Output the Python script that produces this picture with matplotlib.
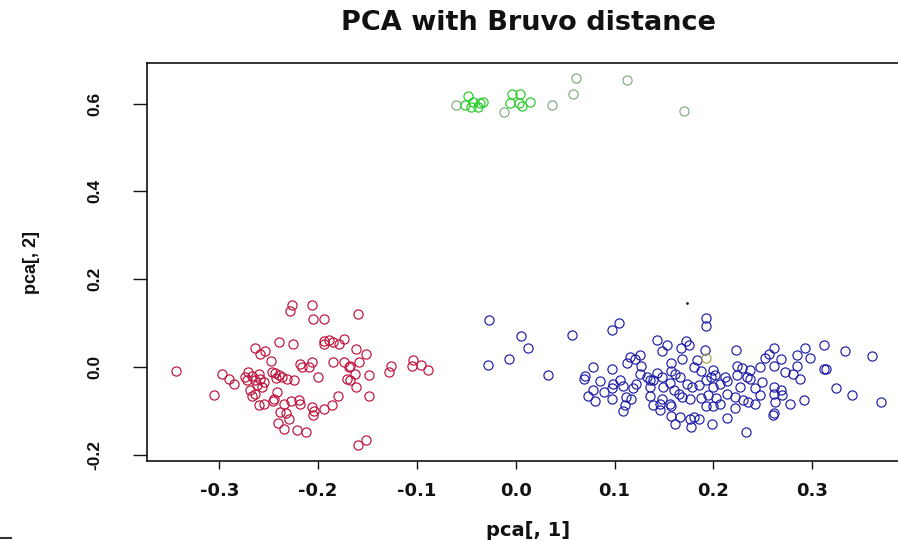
import matplotlib
matplotlib.use("Agg")
import matplotlib.pyplot as plt
from matplotlib.lines import Line2D

plt.rcParams['axes.unicode_minus'] = False

# ---------------- data ----------------
red_x = [-0.344, -0.226, -0.229, -0.206, -0.205, -0.194, -0.160, -0.240, -0.225, -0.194,
         -0.189, -0.185, -0.194, -0.179, -0.174, -0.264, -0.254, -0.259, -0.162, -0.152,
         -0.248, -0.218, -0.206, -0.216, -0.209, -0.185, -0.174, -0.168, -0.159, -0.169,
         -0.126, -0.128, -0.104, -0.105, -0.096, -0.089, -0.297, -0.290, -0.285, -0.271,
         -0.274, -0.267, -0.260, -0.247, -0.244, -0.240, -0.237, -0.243, -0.232, -0.224,
         -0.200, -0.163, -0.149, -0.171, -0.168, -0.272, -0.264, -0.259, -0.255, -0.262,
         -0.257, -0.269, -0.264, -0.267, -0.242, -0.305, -0.162, -0.149, -0.180, -0.245,
         -0.246, -0.260, -0.255, -0.228, -0.219, -0.218, -0.235, -0.206, -0.204, -0.205,
         -0.194, -0.186, -0.239, -0.233, -0.230, -0.241, -0.235, -0.221, -0.212, -0.152,
         -0.160]
red_y = [-0.009, 0.142, 0.128, 0.140, 0.109, 0.108, 0.121, 0.056, 0.051, 0.060,
         0.061, 0.056, 0.052, 0.052, 0.063, 0.042, 0.037, 0.030, 0.040, 0.030,
         0.013, 0.006, 0.011, -0.001, 0.000, 0.011, 0.011, 0.003, 0.011, -0.001,
         0.002, -0.011, 0.015, 0.002, 0.005, -0.007, -0.017, -0.027, -0.038, -0.011,
         -0.023, -0.020, -0.017, -0.012, -0.014, -0.018, -0.023, -0.025, -0.027, -0.029,
         -0.023, -0.017, -0.018, -0.028, -0.030, -0.030, -0.030, -0.028, -0.034, -0.042,
         -0.046, -0.052, -0.062, -0.066, -0.058, -0.065, -0.047, -0.067, -0.067, -0.074,
         -0.077, -0.087, -0.085, -0.077, -0.075, -0.084, -0.085, -0.091, -0.101, -0.110,
         -0.095, -0.087, -0.103, -0.105, -0.118, -0.128, -0.141, -0.143, -0.149, -0.166,
         -0.178]

blue_x = [-0.027, 0.105, 0.097, 0.005, 0.057, 0.012, -0.007, -0.028, 0.033, 0.193,
          0.193, 0.143, 0.153, 0.148, 0.172, 0.175, 0.167, 0.192, 0.223, 0.261,
          0.293, 0.312, 0.333, 0.361, 0.116, 0.126, 0.121, 0.113, 0.127, 0.157,
          0.168, 0.183, 0.252, 0.256, 0.268, 0.285, 0.298, 0.078, 0.097,
          0.070, 0.069, 0.085, 0.098, 0.106, 0.126, 0.133, 0.143, 0.148, 0.157,
          0.161, 0.166, 0.180, 0.187, 0.200, 0.202, 0.212, 0.224, 0.229, 0.234,
          0.247, 0.261, 0.273, 0.281, 0.285, 0.288, 0.312, 0.314, 0.078, 0.089,
          0.097, 0.109, 0.119, 0.122, 0.136, 0.139, 0.149, 0.156, 0.160, 0.165,
          0.173, 0.178, 0.185, 0.193, 0.200, 0.207, 0.214, 0.224, 0.227, 0.237,
          0.242, 0.249, 0.261, 0.268, 0.261, 0.324, 0.340, 0.370, 0.073, 0.080,
          0.097, 0.112, 0.117, 0.136, 0.148, 0.156, 0.139, 0.111, 0.109, 0.146,
          0.157, 0.168, 0.176, 0.187, 0.195, 0.203, 0.207, 0.214, 0.222, 0.230,
          0.235, 0.242, 0.247, 0.262, 0.269, 0.278, 0.292, 0.193, 0.200, 0.222,
          0.261, 0.260, 0.157, 0.166, 0.180, 0.185, 0.176, 0.177, 0.161, 0.199,
          0.214, 0.233, 0.146, 0.136, 0.198, 0.237]
blue_y = [0.107, 0.101, 0.084, 0.070, 0.072, 0.043, 0.019, 0.005, -0.019, 0.111,
          0.092, 0.062, 0.049, 0.037, 0.059, 0.049, 0.043, 0.039, 0.039, 0.042,
          0.043, 0.049, 0.035, 0.024, 0.023, 0.027, 0.018, 0.008, 0.003, 0.008,
          0.019, 0.015, 0.021, 0.029, 0.018, 0.027, 0.020, 0.000, -0.004,
          -0.020, -0.027, -0.033, -0.038, -0.029, -0.017, -0.023, -0.013, -0.024, -0.009,
          -0.017, -0.023, 0.000, -0.009, -0.008, -0.019, -0.023, 0.003, -0.002, -0.024,
          -0.001, 0.002, -0.011, -0.017, 0.002, -0.027, -0.004, -0.006, -0.053, -0.057,
          -0.049, -0.044, -0.049, -0.038, -0.047, -0.030, -0.046, -0.036, -0.053, -0.061,
          -0.038, -0.047, -0.042, -0.030, -0.046, -0.038, -0.032, -0.019, -0.046, -0.027,
          -0.049, -0.034, -0.046, -0.053, -0.061, -0.049, -0.065, -0.081, -0.067, -0.078,
          -0.074, -0.068, -0.074, -0.067, -0.074, -0.084, -0.087, -0.088, -0.100, -0.099,
          -0.090, -0.068, -0.074, -0.072, -0.065, -0.072, -0.084, -0.061, -0.068, -0.075,
          -0.080, -0.084, -0.065, -0.081, -0.065, -0.084, -0.076, -0.090, -0.090, -0.093,
          -0.106, -0.109, -0.112, -0.114, -0.114, -0.120, -0.120, -0.138, -0.131, -0.131,
          -0.117, -0.148, -0.085, -0.030, -0.023, -0.008]

green_x = [-0.048, -0.051, -0.043, -0.036, -0.033, -0.045, -0.038, -0.004, 0.004, -0.006,
           0.003, 0.014, 0.006]
green_y = [0.617, 0.597, 0.604, 0.602, 0.604, 0.593, 0.593, 0.623, 0.622, 0.602,
           0.601, 0.604, 0.594]

green_pale_x = [-0.061, -0.012, 0.037, 0.058, 0.061, 0.113, 0.170]
green_pale_y = [0.597, 0.580, 0.597, 0.622, 0.659, 0.654, 0.584]

olive_x = [0.193]
olive_y = [0.021]

dot_x = [0.173]
dot_y = [0.145]

x_ticks = [-0.3, -0.2, -0.1, 0.0, 0.1, 0.2, 0.3]
x_tick_labels = ["-0.3", "-0.2", "-0.1", "0.0", "0.1", "0.2", "0.3"]
y_ticks = [-0.2, 0.0, 0.2, 0.4, 0.6]
y_tick_labels = ["-0.2", "0.0", "0.2", "0.4", "0.6"]

title = "PCA with Bruvo distance"
x_label = "pca[, 1]"
y_label = "pca[, 2]"

# ---------------- figure ----------------
fig = plt.figure(figsize=(8.98, 5.41), dpi=100)
ax = fig.add_axes([0.1640, 0.1484, 0.8614, 0.7346])

ms = 6.6
mew = 0.85
ax.plot(red_x, red_y, 'o', mfc='none', mec='#C0103A', ms=ms, mew=mew, ls='none')
ax.plot(blue_x, blue_y, 'o', mfc='none', mec='#1C1CA8', ms=ms, mew=mew, ls='none')
ax.plot(olive_x, olive_y, 'o', mfc='none', mec='#A0A040', ms=ms, mew=mew, ls='none')
ax.plot(green_pale_x, green_pale_y, 'o', mfc='none', mec='#7FA87F', ms=ms, mew=mew, ls='none')
ax.plot(green_x, green_y, 'o', mfc='none', mec='#22CC22', ms=ms, mew=mew, ls='none')
ax.plot(dot_x, dot_y, '.', color='#222222', ms=2.0, ls='none')

ax.set_xlim(-0.373, 0.41)
ax.set_ylim(-0.214, 0.692)

for s in ax.spines.values():
    s.set_linewidth(1.2)
    s.set_color('#111111')

ax.set_xticks(x_ticks)
ax.set_xticklabels(x_tick_labels, fontfamily='DejaVu Sans', fontweight='bold', fontsize=13)
ax.set_yticks(y_ticks)
ax.set_yticklabels(y_tick_labels, fontfamily='Liberation Sans', fontweight='bold', fontsize=12.5,
                   rotation=90, va='center')
ax.tick_params(axis='x', length=6, width=1.0, pad=9, colors='#111111')
ax.tick_params(axis='y', length=10, width=1.0, pad=22, colors='#111111')

fig.text(0.588, 0.958, title, ha='center', va='center', fontfamily='DejaVu Sans',
         fontweight='bold', fontsize=19.5, color='#111111')
fig.text(0.588, 0.020, x_label, ha='center', va='center', fontfamily='DejaVu Sans',
         fontweight='bold', fontsize=14, color='#111111')
fig.text(0.035, 0.5157, y_label, ha='center', va='center', rotation=90,
         fontfamily='Liberation Sans', fontweight='bold', fontsize=13, color='#111111')

fig.add_artist(Line2D([0.0, 0.012], [0.006, 0.006], color='#333333', lw=1.5))

fig.savefig("out.png", dpi=100)
